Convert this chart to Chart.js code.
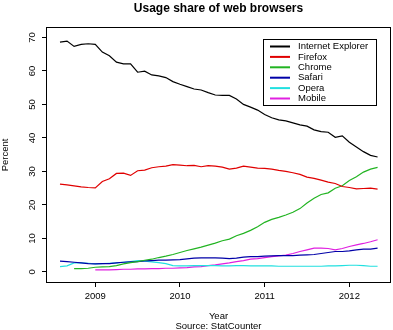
<!DOCTYPE html>
<html><head><meta charset="utf-8">
<script src="https://cdn.jsdelivr.net/npm/chart.js@4/dist/chart.umd.min.js"></script>
<style>html,body{margin:0;padding:0;background:#fff}</style>
</head><body>
<canvas id="c" width="393" height="330" style="display:block;width:393px;height:330px"></canvas>
<script>
const months = ['2008-07','2008-08','2008-09','2008-10','2008-11','2008-12',
  '2009-01','2009-02','2009-03','2009-04','2009-05','2009-06','2009-07','2009-08','2009-09','2009-10','2009-11','2009-12',
  '2010-01','2010-02','2010-03','2010-04','2010-05','2010-06','2010-07','2010-08','2010-09','2010-10','2010-11','2010-12',
  '2011-01','2011-02','2011-03','2011-04','2011-05','2011-06','2011-07','2011-08','2011-09','2011-10','2011-11','2011-12',
  '2012-01','2012-02','2012-03','2012-04'];
const internetExplorer = [68.6,68.9,67.3,67.9,68.1,67.9,65.6,64.5,62.6,62.1,62.1,59.6,59.9,58.8,58.5,58.0,56.8,56.0,55.3,54.6,54.3,53.5,52.8,52.7,52.7,51.6,50.0,49.2,48.3,47.0,46.0,45.4,45.1,44.5,43.9,43.5,42.4,41.9,41.7,40.2,40.6,38.7,37.3,35.9,34.8,34.3];
const firefox = [26.2,26.0,25.7,25.4,25.2,25.1,27.0,27.8,29.4,29.5,28.8,30.2,30.4,31.1,31.4,31.6,32.0,31.9,31.7,31.8,31.4,31.7,31.6,31.3,30.7,31.0,31.6,31.3,31.0,30.9,30.7,30.3,30.0,29.6,29.1,28.3,27.9,27.4,26.8,26.4,25.5,25.2,24.8,24.9,25.0,24.7];
const chrome = [null,null,1.0,1.0,1.1,1.4,1.5,1.6,1.9,2.4,2.8,3.1,3.5,3.8,4.3,4.7,5.2,5.8,6.4,6.9,7.4,8.0,8.6,9.3,9.8,10.8,11.5,12.4,13.5,14.8,15.7,16.3,17.0,17.8,18.9,20.6,22.0,23.1,23.6,25.0,25.7,27.3,28.4,29.8,30.7,31.2];
const safari = [3.2,3.1,2.9,2.7,2.5,2.4,2.5,2.5,2.7,2.9,3.0,3.1,3.3,3.4,3.5,3.5,3.6,3.7,3.9,4.1,4.2,4.2,4.2,4.1,4.0,4.1,4.4,4.6,4.6,4.7,4.8,4.9,4.9,4.9,5.0,5.1,5.2,5.5,5.8,6.1,6.1,6.3,6.6,6.8,6.8,7.1];
const opera = [1.6,1.8,2.7,2.7,2.6,2.4,2.5,2.6,2.7,2.9,3.1,3.4,3.2,3.0,2.8,2.5,1.9,1.8,1.8,1.9,1.9,1.9,1.9,1.8,1.8,1.9,1.9,1.8,1.8,1.8,1.8,1.7,1.7,1.7,1.7,1.7,1.7,1.7,1.8,1.8,1.9,2.0,2.0,1.9,1.7,1.7];
const mobile = [null,null,null,null,null,0.6,0.6,0.6,0.7,0.8,0.8,0.9,0.9,1.0,1.0,1.1,1.1,1.2,1.3,1.5,1.6,1.9,2.1,2.4,2.7,3.1,3.4,3.8,4.0,4.3,4.6,4.8,5.0,5.5,6.1,6.6,7.1,7.1,7.0,6.6,7.0,7.6,8.1,8.5,9.0,9.6];
const seriesNames = ['Internet Explorer','Firefox','Chrome','Safari','Opera','Mobile'];
const xTickLabels = ['2009','2010','2011','2012'];
const yTickLabels = ['0','10','20','30','40','50','60','70'];

const FONT = "'Liberation Sans', Arial, Helvetica, sans-serif";
const colors = ['#000000','#e00000','#22b422','#0000a8','#22e0e0','#e020e0'];
const seriesValues = [internetExplorer, firefox, chrome, safari, opera, mobile];

function monthToX(m){ const p = m.split('-'); return +p[0] + (+p[1])/12; }

const datasets = seriesNames.map((name,i)=>({
  label: name,
  data: months.map((m,j)=>({x: monthToX(m), y: seriesValues[i][j]})),
  borderColor: colors[i],
  backgroundColor: colors[i],
  borderWidth: 1.2,
  pointRadius: 0,
  tension: 0,
  spanGaps: false
}));

const framePlugin = {
  id: 'frame',
  afterDraw(chart){
    const a = chart.chartArea, ctx = chart.ctx;
    ctx.save();
    ctx.strokeStyle = '#000'; ctx.lineWidth = 1;
    ctx.strokeRect(Math.round(a.left)-0.5, Math.round(a.top)-0.5, Math.round(a.right-a.left)+1, Math.round(a.bottom-a.top)+1);
    // legend box
    const lx = a.right - 127, ly = a.top + 11;
    ctx.strokeRect(lx + 0.5, ly + 0.5, 113, 66);
    ctx.font = "9.5px " + FONT;
    ctx.textBaseline = 'middle'; ctx.textAlign = 'left';
    chart.data.datasets.forEach((ds,i)=>{
      const y = ly + 7.5 + i*10.4;
      ctx.strokeStyle = ds.borderColor; ctx.lineWidth = 2;
      ctx.beginPath(); ctx.moveTo(lx + 7, y); ctx.lineTo(lx + 27, y); ctx.stroke();
      ctx.fillStyle = '#000';
      ctx.fillText(ds.label, lx + 35, y);
    });
    ctx.restore();
  }
};

new Chart(document.getElementById('c'), {
  type: 'line',
  data: { datasets },
  options: {
    responsive: false,
    animation: false,
    devicePixelRatio: 1,
    layout: { padding: { left: 0, right: 3, top: 0, bottom: 0 } },
    plugins: {
      legend: { display: false },
      tooltip: { enabled: false },
      title: {
        display: true, text: 'Usage share of web browsers', color: '#000', fullSize: false,
        font: { family: FONT, size: 12, weight: 'bold', lineHeight: 1.2 },
        padding: { top: 1, bottom: 12.6 }
      }
    },
    scales: {
      x: {
        type: 'linear', min: 2008.43, max: 2012.48,
        afterFit(s){ s.height = 48; },
        border: { display: false },
        grid: { drawOnChartArea: false, drawTicks: true, tickLength: 5, color: '#000', tickColor: '#000' },
        ticks: { stepSize: 1, includeBounds: false, color: '#000', padding: 4, maxRotation: 0, autoSkip: false,
          font: { family: FONT, size: 9.5 },
          callback: (v)=> xTickLabels.includes(String(v)) ? String(v) : '' },
        title: { display: true, text: ['Year','Source: StatCounter'], color: '#000',
          font: { family: FONT, size: 9.5, lineHeight: 1.05 }, padding: { top: 0, bottom: -1.5 } }
      },
      y: {
        type: 'linear', min: -3, max: 72.8,
        afterFit(s){ s.width = 47; },
        border: { display: false },
        grid: { drawOnChartArea: false, drawTicks: true, tickLength: 5, color: '#000', tickColor: '#000' },
        ticks: { stepSize: 10, includeBounds: false, color: '#000', padding: 4, minRotation: 90, maxRotation: 90,
          crossAlign: 'center', autoSkip: false,
          font: { family: FONT, size: 9.5 },
          callback: (v)=> yTickLabels.includes(String(v)) ? String(v) : '' },
        title: { display: true, text: 'Percent', color: '#000',
          font: { family: FONT, size: 9.5, lineHeight: 1.2 }, padding: { top: 0, bottom: 0 } }
      }
    }
  },
  plugins: [framePlugin]
});
</script>
</body></html>
